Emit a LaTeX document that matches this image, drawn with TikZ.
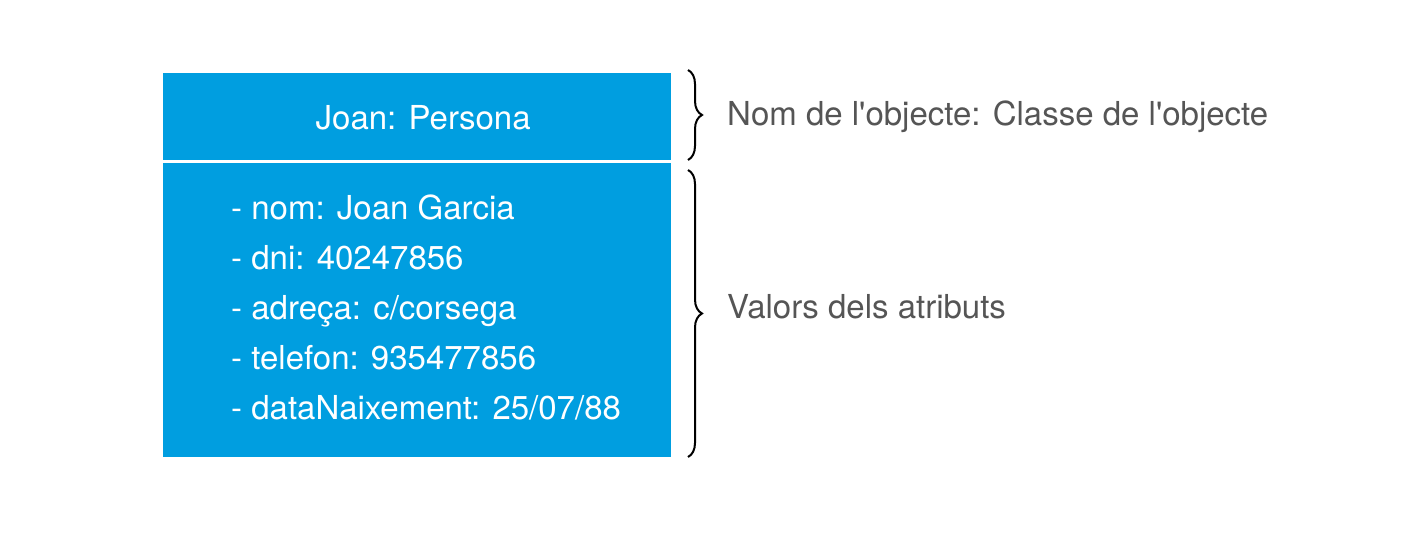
\documentclass[tikz,border=0pt]{standalone}
\usepackage{fontspec}
\setmainfont{TeX Gyre Heros}
\usepackage{xcolor}
\usetikzlibrary{decorations.pathreplacing}
\definecolor{objblue}{RGB}{0,158,224}
\definecolor{labgray}{RGB}{85,85,85}

\begin{document}
\begin{tikzpicture}[x=1pt,y=1pt,
  caixa/.style={fill=objblue,draw=none,inner sep=0pt,minimum width=508pt,anchor=north west},
  clau/.style={draw=black,line width=2pt,decorate,decoration={brace,amplitude=14pt}},
  etiqueta/.style={text=labgray,anchor=west,inner sep=0pt,font=\fontsize{33}{40}\selectfont}]
 \useasboundingbox (0,0) rectangle (1420,534);
 \pgfmathsetmacro{\bx}{688}
  \node[caixa,minimum height=87pt] (cap) at (163,461) {};
  \node[caixa,minimum height=294pt] (cos) at (163,371) {};
  \node[text=white,font=\fontsize{33}{40}\selectfont,xshift=6pt,yshift=-1pt] (nom) at (cap.center) {Joan: Persona};
  \node[text=white,anchor=west,align=left,inner sep=0pt,
   font=\fontsize{33}{50}\selectfont] (atr) at (231,226) {- nom: Joan Garcia\\
   - dni: 40247856\\
   - adre\c{c}a: c/corsega\\
   - telefon: 935477856\\
   - dataNaixement: 25/07/88};

\coordinate (c1) at (\bx,464);
\coordinate (c2) at (\bx,374);
\coordinate (c3) at (\bx,364);
\coordinate (c4) at (\bx,77);
  \draw[clau] (c1) -- (c2);
  \draw[clau] (c3) -- (c4);
\node[etiqueta] (et1) at (727,417) {Nom de l\textquotesingle objecte: Classe de l\textquotesingle objecte};
\node[etiqueta] (et2) at (727,227) {Valors dels atributs};
\end{tikzpicture}
\end{document}
